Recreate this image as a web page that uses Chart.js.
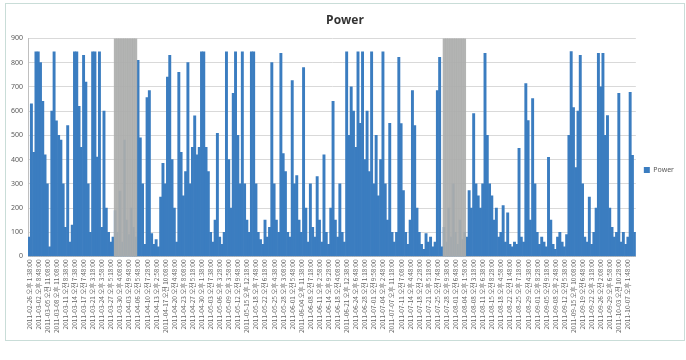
<!DOCTYPE html>
<html>
<head>
<meta charset="utf-8">
<script src="https://cdn.jsdelivr.net/npm/chart.js@4.4.0/dist/chart.umd.min.js"></script>
<style>
  body { margin: 0; background: #fff; }
  #box { position: absolute; left: 5px; top: 3px; width: 678px; height: 336px; border: 1px solid #c9ddd8; }
</style>
</head>
<body>
<div id="box"><canvas id="power"></canvas></div>
<script>
// one tick label every 4 bars
const tickLabels = [
  '2011-02-26 오후 1:38:00', '2011-03-02 오후 8:48:00', '2011-03-05 오전 11:08:00', '2011-03-08 오후 11:08:00',
  '2011-03-11 오전 8:38:00', '2011-03-14 오전 7:38:00', '2011-03-17 오전 7:48:00', '2011-03-21 오후 3:18:00',
  '2011-03-24 오후 3:58:00', '2011-03-27 오후 5:18:00', '2011-03-30 오후 4:08:00', '2011-04-03 오전 9:48:00',
  '2011-04-06 오전 5:48:00', '2011-04-10 오전 7:28:00', '2011-04-13 오후 2:58:00', '2011-04-17 오전 10:08:00',
  '2011-04-20 오전 4:48:00', '2011-04-23 오후 8:08:00', '2011-04-27 오전 5:18:00', '2011-04-30 오후 1:38:00',
  '2011-05-03 오전 7:38:00', '2011-05-06 오후 3:28:00', '2011-05-09 오후 3:58:00', '2011-05-12 오전 9:48:00',
  '2011-05-15 오후 12:18:00', '2011-05-18 오후 7:48:00', '2011-05-22 오전 6:18:00', '2011-05-25 오후 4:38:00',
  '2011-05-28 오후 3:08:00', '2011-06-01 오전 5:48:00', '2011-06-04 오후 11:38:00', '2011-06-08 오전 7:18:00',
  '2011-06-11 오후 2:58:00', '2011-06-14 오후 9:28:00', '2011-06-18 오전 4:08:00', '2011-06-21 오후 12:38:00',
  '2011-06-24 오후 6:48:00', '2011-06-28 오전 1:18:00', '2011-07-01 오전 9:58:00', '2011-07-04 오후 2:48:00',
  '2011-07-07 오후 11:18:00', '2011-07-11 오전 7:08:00', '2011-07-14 오후 4:48:00', '2011-07-18 오전 2:28:00',
  '2011-07-21 오후 5:18:00', '2011-07-25 오전 7:48:00', '2011-07-28 오후 9:38:00', '2011-08-01 오전 6:48:00',
  '2011-08-04 오후 1:58:00', '2011-08-08 오전 3:18:00', '2011-08-11 오후 6:38:00', '2011-08-15 오전 8:28:00',
  '2011-08-18 오후 4:58:00', '2011-08-22 오전 1:48:00', '2011-08-25 오후 7:18:00', '2011-08-29 오전 4:38:00',
  '2011-09-01 오후 8:28:00', '2011-09-05 오전 9:18:00', '2011-09-08 오후 2:48:00', '2011-09-12 오전 5:38:00',
  '2011-09-15 오후 10:08:00', '2011-09-19 오전 6:48:00', '2011-09-22 오후 3:18:00', '2011-09-26 오전 2:08:00',
  '2011-09-29 오후 6:58:00', '2011-10-03 오전 10:28:00', '2011-10-07 오후 1:48:00'
];

const powerValues = [
  80, 630, 430, 845, 845, 800, 640, 420, 300, 40,
  600, 845, 560, 500, 480, 300, 120, 540, 60, 130,
  845, 845, 620, 450, 830, 720, 300, 100, 845, 845,
  410, 845, 120, 600, 200, 100, 60, 80, 190, 100,
  270, 60, 480, 150, 90, 200, 120, 80, 810, 490,
  300, 50, 656, 685, 95, 50, 70, 40, 245, 384,
  300, 740, 830, 400, 200, 60, 760, 430, 250, 350,
  800, 300, 450, 580, 420, 450, 845, 845, 450, 350,
  100, 60, 150, 508, 80, 50, 100, 845, 400, 200,
  673, 845, 500, 300, 845, 300, 150, 100, 845, 845,
  300, 100, 70, 50, 150, 80, 120, 800, 300, 150,
  100, 838, 425, 350, 100, 80, 726, 300, 334, 150,
  100, 780, 200, 60, 300, 120, 80, 330, 150, 60,
  420, 100, 50, 200, 640, 150, 80, 300, 100, 60,
  845, 500, 700, 600, 450, 845, 550, 845, 400, 600,
  350, 845, 300, 500, 250, 400, 845, 300, 150, 550,
  100, 60, 100, 822, 549, 272, 100, 50, 150, 685,
  540, 200, 100, 50, 30, 95, 60, 80, 40, 60,
  685, 822, 40, 120, 60, 200, 80, 300, 100, 50,
  150, 70, 100, 80, 272, 200, 590, 300, 250, 200,
  300, 838, 500, 300, 250, 150, 200, 80, 100, 210,
  60, 180, 50, 40, 60, 50, 446, 80, 60, 714,
  561, 150, 652, 300, 100, 50, 80, 60, 40, 409,
  150, 50, 30, 80, 100, 60, 40, 90, 500, 846,
  615, 367, 600, 830, 300, 80, 60, 245, 50, 100,
  200, 838, 700, 838, 500, 582, 200, 120, 80, 100,
  673, 60, 100, 50, 80, 677, 417, 100
];

// bar index ranges covered by the grey "no data" blocks
const missingRanges = [[38, 47], [183, 192]];
const barsPerTick = 4;
const yMax = 900;

const categories = powerValues.map((v, i) => i % barsPerTick === 0 ? tickLabels[i / barsPerTick] : '');
const gapValues = powerValues.map((v, i) =>
  missingRanges.some(r => i >= r[0] && i <= r[1]) ? yMax : null);

const ctx = document.getElementById('power').getContext('2d');
new Chart(ctx, {
  type: 'bar',
  data: {
    labels: categories,
    datasets: [
      {
        label: 'Power',
        data: powerValues,
        backgroundColor: '#3b7dc0',
        grouped: false,
        barPercentage: 1,
        categoryPercentage: 1,
        order: 2
      },
      {
        label: 'gap',
        data: gapValues,
        backgroundColor: 'rgba(172,174,173,0.92)',
        grouped: false,
        barPercentage: 1,
        categoryPercentage: 1,
        order: 1
      }
    ]
  },
  options: {
    responsive: true,
    maintainAspectRatio: false,
    animation: false,
    layout: { padding: { left: 0, right: 0, top: 0, bottom: 4 } },
    plugins: {
      title: {
        display: true,
        text: 'Power',
        color: '#333',
        font: { family: 'Open Sans', size: 12, weight: 'bold' },
        padding: { top: 9, bottom: 11 }
      },
      legend: {
        position: 'right',
        labels: {
          boxWidth: 6,
          boxHeight: 6,
          padding: 8,
          color: '#595959',
          font: { family: 'Noto Sans', size: 7 },
          filter: item => item.text === 'Power'
        }
      },
      tooltip: { enabled: false }
    },
    scales: {
      x: {
        grid: { display: false, drawTicks: false },
        border: { color: '#bfbfbf' },
        ticks: {
          autoSkip: false,
          maxRotation: 90,
          minRotation: 90,
          padding: 3,
          color: '#666',
          font: { family: 'Noto Sans CJK KR', size: 6.5 }
        }
      },
      y: {
        min: 0,
        max: yMax,
        grid: { color: '#d9d9d9', drawTicks: false },
        border: { color: '#bfbfbf' },
        ticks: {
          stepSize: 100,
          padding: 5,
          color: '#595959',
          font: { family: 'Noto Sans', size: 7 }
        }
      }
    }
  }
});
</script>
</body>
</html>
